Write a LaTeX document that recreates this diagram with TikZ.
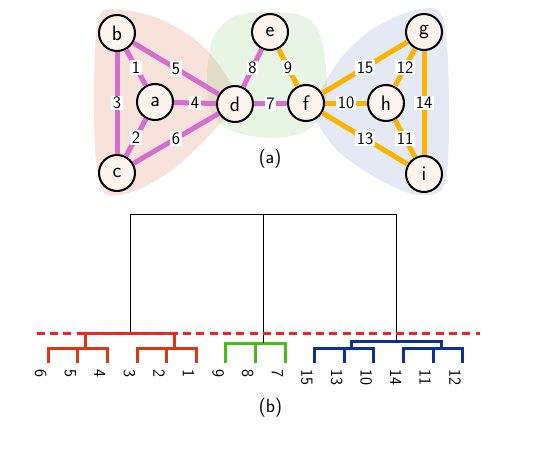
\documentclass[tikz,border=0pt]{standalone}
\definecolor{nodefill}{RGB}{253,244,237}
\definecolor{edgepink}{RGB}{215,110,205}
\definecolor{edgeorange}{RGB}{250,180,0}
\definecolor{blobred}{RGB}{205,75,40}
\definecolor{blobgreen}{RGB}{120,195,90}
\definecolor{blobblue}{RGB}{90,120,180}
\definecolor{clured}{RGB}{220,55,20}
\definecolor{clugreen}{RGB}{70,190,20}
\definecolor{clublue}{RGB}{10,50,150}
\definecolor{cutred}{RGB}{255,30,30}
\begin{document}
\begin{tikzpicture}[x=1pt,y=-1pt,font=\sffamily,
    vertex/.style={circle,draw,line width=2pt,fill=nodefill,minimum size=36pt,inner sep=0pt,font=\sffamily\fontsize{21}{24}\selectfont},
    weight/.style={fill=white,inner xsep=1.6pt,inner ysep=1.2pt,font=\sffamily\fontsize{17.5}{20}\selectfont},
    pinkedge/.style={draw=edgepink,line width=5pt},
    orangeedge/.style={draw=edgeorange,line width=5pt},
    blob/.style={fill opacity=0.16},
    leaf/.style={rotate=-90,anchor=west,inner sep=0pt,font=\sffamily\fontsize{17}{20}\selectfont},
    clusterline/.style={line width=3pt},
    caption/.style={font=\sffamily\fontsize{19}{22}\selectfont}]
  \useasboundingbox (0,0) rectangle (543,458);

  % clusters of the graph
  \fill[blob,blobred] plot[smooth cycle] coordinates {(105,10) (152,16) (192,37) (220,66) (238,102) (220,124) (195,150) (168,173) (135,191) (105,194) (96,160) (94,100) (96,35)};
  \fill[blob,blobgreen] plot[smooth cycle] coordinates {(207,83) (212,40) (232,17) (265,12) (300,15) (318,30) (326,67) (325,108) (305,132) (268,138) (232,131) (212,113)};
  \fill[blob,blobblue] plot[smooth cycle] coordinates {(314,110) (338,62) (368,32) (405,13) (438,10) (447,45) (449,133) (443,188) (412,194) (368,173) (335,148)};

  % vertices
  \node[vertex] (b) at (117,33) {b};
  \node[vertex] (a) at (155,102) {a};
  \node[vertex] (c) at (117,173) {c};
  \node[vertex] (d) at (235,104) {d};
  \node[vertex] (e) at (270,32) {e};
  \node[vertex] (f) at (306,103) {f};
  \node[vertex] (h) at (386,103) {h};
  \node[vertex] (g) at (424,32) {g};
  \node[vertex] (i) at (424,174) {i};

  % weighted edges
  \draw[pinkedge] (b) -- node[weight] {1} (a);
  \draw[pinkedge] (a) -- node[weight] {2} (c);
  \draw[pinkedge] (b) -- node[weight] {3} (c);
  \draw[pinkedge] (a) -- node[weight] {4} (d);
  \draw[pinkedge] (b) -- node[weight] {5} (d);
  \draw[pinkedge] (c) -- node[weight] {6} (d);
  \draw[pinkedge] (d) -- node[weight] {7} (f);
  \draw[pinkedge] (d) -- node[weight] {8} (e);
  \draw[orangeedge] (e) -- node[weight] {9} (f);
  \draw[orangeedge] (f) -- node[weight] {10} (h);
  \draw[orangeedge] (h) -- node[weight] {11} (i);
  \draw[orangeedge] (g) -- node[weight] {12} (h);
  \draw[orangeedge] (f) -- node[weight] {13} (i);
  \draw[orangeedge] (g) -- node[weight] {14} (i);
  \draw[orangeedge] (f) -- node[weight] {15} (g);

  \node[caption] (capa) at (270,159) {(a)};

  % dendrogram leaves
  \foreach \lab [count=\k from 0] in {6,5,4,3,2,1,9,8,7,15,13,10,14,11,12} {
    \coordinate (l\k) at ({48.3+29.6*\k},363);
    \node[leaf] (leaf\k) at ({40.6+29.6*\k},369) {\lab};
  }

  % red cluster
  \draw[clusterline,clured] (l0) -- ++(0,-15) -| (l2);
  \draw[clusterline,clured] (l1) -- ++(0,-15);
  \draw[clusterline,clured] (l3) -- ++(0,-15) -| (l5);
  \draw[clusterline,clured] (l4) -- ++(0,-15);
  \draw[clusterline,clured] (85,348) -- (85,333.5) -- (174.3,333.5) -- (174.3,348);
  % green cluster
  \draw[clusterline,clugreen] (l6) -- ++(0,-20) -| (l8);
  \draw[clusterline,clugreen] (l7) -- ++(0,-20);
  % blue cluster
  \draw[clusterline,clublue] (l9) -- ++(0,-14.5) -| (l11);
  \draw[clusterline,clublue] (l10) -- ++(0,-14.5);
  \draw[clusterline,clublue] (l12) -- ++(0,-14.5) -| (l14);
  \draw[clusterline,clublue] (l13) -- ++(0,-14.5);
  \draw[clusterline,clublue] (351.7,348.5) -- (351.7,341.5) -- (441,341.5) -- (441,348.5);

  % upper merges
  \draw[line width=0.9pt] (130,333.5) -- (130,214) -- (396.7,214) -- (396.7,341.5);
  \draw[line width=0.9pt] (263.3,214) -- (263.3,343);

  % cut level
  \draw[cutred,line width=3pt,dash pattern=on 8pt off 5.3pt] (36.7,333.7) -- (480,333.7);

  \node[caption] (capb) at (270.5,408) {(b)};
\end{tikzpicture}
\end{document}
